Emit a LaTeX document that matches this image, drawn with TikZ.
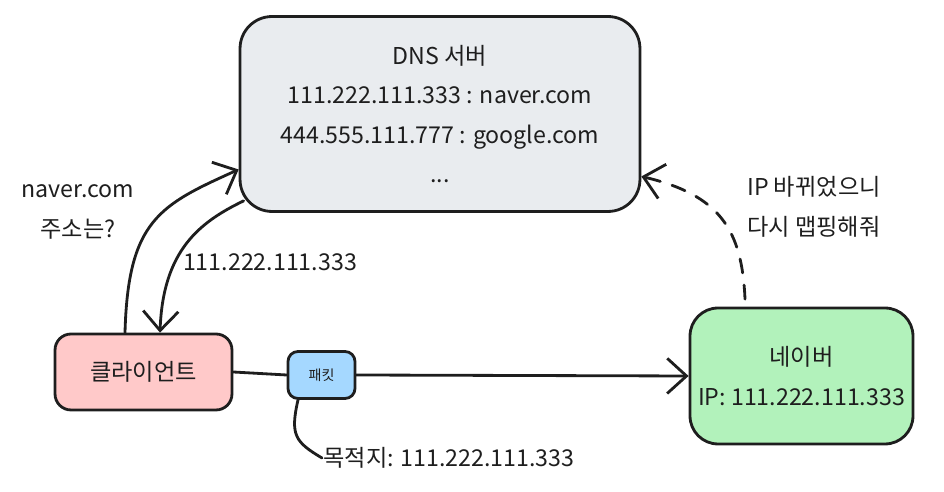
\documentclass[tikz,border=0pt]{standalone}
\usepackage{fontspec}
\setmainfont{Noto Sans CJK KR}
\usetikzlibrary{arrows.meta}
\definecolor{inkc}{HTML}{1E1E1E}
\definecolor{grayf}{HTML}{E9ECEF}
\definecolor{redf}{HTML}{FFC9C9}
\definecolor{bluef}{HTML}{A5D8FF}
\definecolor{greenf}{HTML}{B2F2BB}
\tikzset{
	basebox/.style = {align=center, inner sep=0pt, text centered, draw=inkc,
		text=inkc, line width=1.6pt, font=\fontsize{13.2}{22.5}\selectfont},
	box_d/.style = {basebox, fill=grayf, minimum width=8cm,
		minimum height=3.9cm, rounded corners=0.64cm},% serveur dns
	box_c/.style = {basebox, fill=redf, minimum width=3.54cm,
		minimum height=1.52cm, rounded corners=0.32cm},% client
	box_p/.style = {basebox, fill=bluef, minimum width=1.34cm,
		minimum height=0.94cm, rounded corners=0.2cm,
		font=\fontsize{8}{9}\selectfont},% paquet
	box_n/.style = {basebox, fill=greenf, minimum width=4.46cm,
		minimum height=2.72cm, rounded corners=0.56cm},% serveur naver
	note/.style = {align=center, inner sep=0pt, text=inkc,
		font=\fontsize{13.2}{22.5}\selectfont}
}
\begin{document}
\begin{tikzpicture}[x=0.02cm,y=-0.02cm,->,>={Straight Barb[length=11pt,width=20pt]},
		line width=1.6pt, draw=inkc, line cap=round]
		\useasboundingbox (0,0) rectangle (944,492);
		\node [box_d] (dns) at (440,114) {DNS 서버\\111.222.111.333 : naver.com\\
			444.555.111.777 : google.com\\...};
		\node [box_c] (cli) at (143.5,372) {클라이언트};
		\node [box_p] (pkt) at (321.5,375) {패킷};
		\node [box_n] (nav) at (801.5,376) {네이버\\IP: 111.222.111.333};
		\node [note] (ask) at (78,212) {naver.com\\주소는?};
		\node [note] (ans) at (270,262) {111.222.111.333};
		\node [note, anchor=west] (dst) at (322,458) {목적지: 111.222.111.333};
		\node [note] (upd) at (814,207) {IP 바뀌었으니\\다시 맵핑해줘};
		\draw ([xshift=-0.37cm]cli.north) .. controls (128,220) and (160,205)
			.. ([yshift=-1.11cm]dns.west);
		\draw ([xshift=0.1cm,yshift=0.24cm]dns.south west) .. controls (200,222)
			and (163,250) .. ([xshift=0.33cm]cli.north);
		\draw [-] (cli.east) -- (pkt.west);
		\draw (pkt.east) -- (nav.west);
		\draw [-] ([xshift=-0.47cm]pkt.south) .. controls (290,435) and (295,442)
			.. (dst.west);
		\draw [dash pattern=on 8pt off 7pt] ([xshift=-1.13cm,yshift=0.15cm]nav.north)
			.. controls (742,230) and (720,195) .. ([yshift=-1.25cm]dns.east);
\end{tikzpicture}
\end{document}
